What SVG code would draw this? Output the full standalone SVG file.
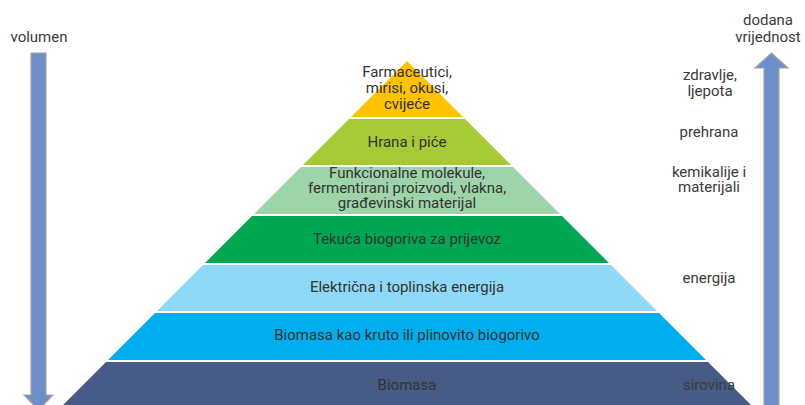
<svg xmlns="http://www.w3.org/2000/svg" width="805" height="405" viewBox="0 0 805 405">
<style>
text{font-family:Roboto,"Liberation Sans",sans-serif;font-size:15px;fill:#333;text-anchor:middle}
.side{font-size:15px;fill:#3a3a3a}
.arrow{fill:#6c8ec9;stroke:#a3a3a3;stroke-width:1.2}
</style>
<rect width="805" height="405" fill="#fff"/>
<g id="layer-farmaceutici">
<polygon points="407,61 463,117 351,117" fill="#fdc300"/>
<text x="407" y="77">Farmaceutici,</text>
<text x="407" y="93">mirisi, okusi,</text>
<text x="407" y="109">cvijeće</text>
</g>
<g id="layer-hrana">
<polygon points="349,119 465,119 511,165 303,165" fill="#a6c938"/>
<text x="407" y="147">Hrana i piće</text>
</g>
<g id="layer-funkcionalne">
<polygon points="301,167 513,167 560,214 254,214" fill="#9dd4a9"/>
<text x="407" y="178">Funkcionalne molekule,</text>
<text x="407" y="193">fermentirani proizvodi, vlakna,</text>
<text x="407" y="208">građevinski materijal</text>
</g>
<g id="layer-tekuca">
<polygon points="252,216 562,216 609,263 205,263" fill="#00a651"/>
<text x="407" y="244">Tekuća biogoriva za prijevoz</text>
</g>
<g id="layer-elektricna">
<polygon points="203,265 611,265 657,311 157,311" fill="#8fd8f7"/>
<text x="407" y="292">Električna i toplinska energija</text>
</g>
<g id="layer-biomasa-gorivo">
<polygon points="155,313 659,313 706,360 108,360" fill="#00aeef"/>
<text x="407" y="340">Biomasa kao kruto ili plinovito biogorivo</text>
</g>
<g id="layer-biomasa">
<polygon points="106,362 708,362 752,406 62,406" fill="#475b86"/>
<text x="407" y="390">Biomasa</text>
</g>
<g id="connectors">
<polygon class="arrow" points="31,53 46,53 46,395 53,395 38.5,410 24,395 31,395"/>
<polygon class="arrow" points="764,410 764,68 755,68 771.5,53 788,68 779,68 779,410"/>
</g>
<g id="label-volumen"><text class="side" x="39" y="42">volumen</text></g>
<g id="label-dodana"><text class="side" x="768" y="25">dodana</text><text class="side" x="768" y="42">vrijednost</text></g>
<g id="label-zdravlje"><text class="side" x="710" y="80">zdravlje,</text><text class="side" x="710" y="96">ljepota</text></g>
<g id="label-prehrana"><text class="side" x="709" y="137">prehrana</text></g>
<g id="label-kemikalije"><text class="side" x="709" y="177">kemikalije i</text><text class="side" x="709" y="192">materijali</text></g>
<g id="label-energija"><text class="side" x="709" y="283">energija</text></g>
<g id="label-sirovina"><text class="side" x="709" y="390">sirovina</text></g>
</svg>
